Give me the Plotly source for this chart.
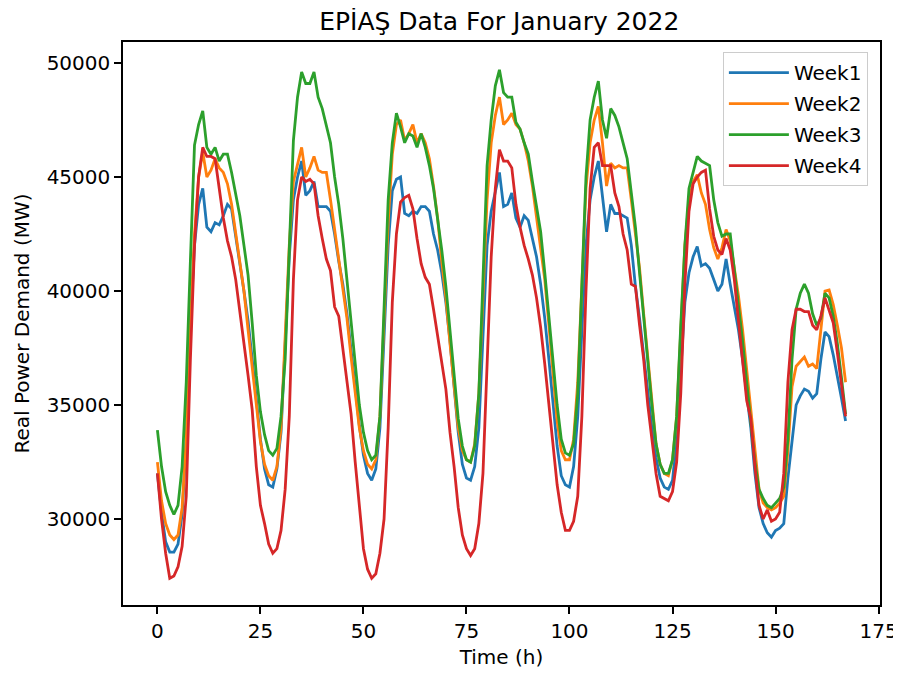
import plotly.graph_objects as go

hours = list(range(168))

week1 = [
    32000, 30300, 29000, 28550, 28550, 28900, 30200, 33500, 38500, 42000, 43800, 44500, 42800, 42600, 43000, 42900, 43300, 43800, 43600, 42300, 41200, 40000, 38700, 37000,
    35200, 33500, 32200, 31500, 31400, 32200, 33800, 37500, 41500, 44000, 45000, 45700, 44200, 44400, 44800, 43700, 43700, 43700, 43500, 42500, 41300, 40300, 39000, 37500,
    35800, 34100, 32800, 32000, 31700, 32200, 34000, 38000, 42000, 44400, 44900, 45000, 43400, 43300, 43500, 43400, 43700, 43700, 43500, 42500, 41800, 40800, 39500, 37800,
    35800, 33800, 32400, 31800, 31700, 32300, 34000, 38000, 42000, 43500, 44300, 45200, 43700, 43800, 44300, 43200, 42800, 43300, 43100, 42300, 41500, 40300, 38800, 37000,
    35000, 33200, 31900, 31500, 31400, 32300, 34500, 38500, 42000, 44000, 45000, 45700, 44000, 42600, 43800, 43400, 43400, 43300, 43200, 42000, 40200, 38800, 37200, 35700,
    34000, 32700, 31800, 31400, 31300, 31700, 33500, 36500, 39500, 40800, 41500, 41950, 41100, 41200, 41000, 40500, 40000, 40300, 41400, 40300, 39300, 38300, 37000, 35500,
    34000, 32000, 30500, 29800, 29400, 29200, 29500, 29600, 29800, 31800, 33500, 35000, 35400, 35700, 35600, 35300, 35500, 37000, 38200, 38000, 37200, 36300, 35300, 34300,
]

week2 = [
    32500, 30800, 29800, 29300, 29100, 29300, 30500, 33500, 38500, 42500, 45000, 46100, 45000, 45300, 45800, 45400, 45200, 44700, 43800, 42600, 41300, 40000, 38300, 36700,
    35000, 33400, 32400, 31900, 31700, 32300, 34000, 38000, 42000, 44800, 45500, 46300, 45000, 45400, 45900, 45300, 45200, 45200, 44000, 42700, 41500, 40200, 38800, 37100,
    35500, 34000, 33000, 32400, 32200, 32600, 34500, 38500, 43000, 46000, 47300, 47500, 46600, 46900, 47300, 46500, 46900, 46500, 45800, 44600, 43200, 41300, 39700, 37700,
    35700, 34000, 33000, 32600, 32500, 33300, 35500, 40000, 44000, 46500, 47700, 48500, 47300, 47500, 47800, 47300, 47100, 46500, 45700, 44600, 43300, 42000, 40500, 38500,
    36300, 34300, 33000, 32600, 32600, 33500, 36000, 40500, 44500, 46500, 47500, 48100, 46500, 44600, 45600, 45400, 45500, 45400, 45400, 44000, 42500, 41000, 39000, 37000,
    35000, 33300, 32400, 32000, 31900, 32600, 34500, 38000, 42000, 44000, 44800, 45100, 44300, 43800, 42700, 41900, 41400, 41900, 42700, 42200, 41000, 39800, 38300, 36500,
    35000, 33000, 31300, 30700, 30500, 30400, 30500, 30700, 31000, 33000, 35800, 36700, 36900, 37100, 36700, 36800, 36600, 38300, 40000, 40050, 39400, 38500, 37500, 36000,
]

week3 = [
    33900, 32300, 31200, 30600, 30200, 30600, 32300, 36000, 41300, 46400, 47300, 47900, 46300, 46000, 46300, 45700, 46000, 46000, 45200, 44300, 43300, 42000, 40700, 38600,
    36300, 34700, 33700, 33000, 32800, 33100, 34500, 37000, 42000, 46600, 48500, 49600, 49100, 49100, 49600, 48500, 48000, 47300, 46500, 45000, 43800, 42300, 40500, 38500,
    36800, 35000, 33800, 33000, 32600, 32800, 34500, 39000, 44000, 46500, 47800, 47200, 46500, 46900, 46800, 46300, 46900, 46300, 45500, 44500, 43200, 41800, 40200, 38300,
    36400, 34400, 33200, 32600, 32500, 33200, 35500, 40500, 45500, 47500, 49000, 49700, 48700, 48500, 48500, 47400, 47100, 46500, 46000, 44800, 43600, 42600, 40800, 38800,
    37000, 35000, 33500, 32900, 32800, 33300, 35500, 40500, 45000, 47500, 48500, 49200, 47500, 46700, 48000, 47700, 47200, 46500, 45800, 44300, 42800, 40800, 38800, 36800,
    35000, 33300, 32400, 32000, 32000, 32600, 34500, 38500, 42000, 44500, 45200, 45900, 45700, 45600, 45500, 44000, 43000, 42400, 42500, 42500, 41000, 39500, 37800, 36000,
    34300, 32500, 31300, 30900, 30600, 30500, 30700, 30900, 31400, 33500, 37000, 39200, 39900, 40300, 39900, 39000, 38500, 38800, 39900, 39700, 38900, 37700, 36200, 34600,
]

week4 = [
    32000, 30000, 28500, 27400, 27500, 27900, 28800, 31000, 37000, 42000, 45000, 46300, 45900, 45900, 45800, 44500, 43200, 42200, 41500, 40500, 39000, 37700, 36300, 34800,
    32300, 30600, 29800, 28900, 28500, 28700, 29500, 31300, 34500, 40500, 44000, 45000, 44800, 44900, 44700, 43300, 42300, 41400, 40900, 39300, 38900, 37500, 36200, 34600,
    32500, 30500, 28700, 27800, 27400, 27600, 28500, 30000, 34000, 39500, 42500, 43900, 44100, 44200, 43600, 42300, 41200, 40600, 40300, 39200, 38000, 36800, 35700, 33800,
    32300, 30500, 29300, 28700, 28400, 28700, 29800, 32000, 37000, 41500, 44500, 46200, 45700, 45700, 45400, 43800, 42800, 42000, 41400, 40700, 39700, 38400, 36800, 35000,
    33200, 31500, 30300, 29500, 29500, 29900, 31000, 34500, 40000, 44500, 46300, 46500, 45500, 45500, 45500, 44300, 43700, 42500, 41800, 40300, 40200, 38500, 37000, 35000,
    33500, 32000, 31000, 30900, 30800, 31200, 32500, 35500, 40300, 43500, 44700, 45000, 45200, 45300, 43600, 42400, 41800, 41600, 42300, 41800, 40500, 38700, 37000, 35200,
    34400, 32300, 30600, 30000, 30400, 29900, 30000, 30300, 32000, 36000, 38300, 39200, 39200, 39100, 39100, 38500, 38300, 38900, 39700, 39100, 38600, 37300, 35800, 34500,
]

series_names = ["Week1", "Week2", "Week3", "Week4"]
series_values = [week1, week2, week3, week4]
colors = ["#1f77b4", "#ff7f0e", "#2ca02c", "#d62728"]

x_ticks = [0, 25, 50, 75, 100, 125, 150, 175]
y_ticks = [30000, 35000, 40000, 45000, 50000]

for s in series_values:
    assert len(s) == len(hours)

FONT = "DejaVu Sans"
FS = 20

fig = go.Figure()
for name, vals, col in zip(series_names, series_values, colors):
    fig.add_trace(go.Scatter(
        x=hours, y=vals, mode="lines", name=name, legendgroup=name,
        line=dict(color=col, width=2.8),
    ))

axis_common = dict(
    showline=True, linecolor="black", linewidth=1.5, mirror=True,
    ticks="outside", ticklen=7, tickwidth=1.5, tickcolor="black",
    showgrid=False, zeroline=False, automargin=False,
    tickfont=dict(family=FONT, size=FS, color="black"),
)

# page body has an 8px default margin, so the figure is 8px smaller on each axis
W, H = 893, 667
fig.update_layout(
    width=W, height=H,
    margin=dict(l=115, r=21, t=34, b=70),
    paper_bgcolor="white", plot_bgcolor="white",
    font=dict(family=FONT, color="black"),
    title=dict(text="EPİAŞ Data For January 2022", xref="paper", x=0.497, xanchor="center",
               y=1 - 13 / H, yanchor="middle",
               font=dict(family=FONT, size=25, color="black")),
    xaxis=dict(range=[-8.35, 175.35], tickvals=x_ticks,
               ticktext=[str(v) for v in x_ticks],
               title=dict(text="Time (h)", font=dict(family=FONT, size=FS), standoff=8),
               **axis_common),
    yaxis=dict(range=[26230, 50920], tickvals=y_ticks,
               ticktext=[str(v) for v in y_ticks],
               title=dict(text="Real Power Demand (MW)", font=dict(family=FONT, size=FS), standoff=12),
               **axis_common),
    legend=dict(x=0.984, y=0.982, xanchor="right", yanchor="top",
                bgcolor="rgba(255,255,255,0.8)", bordercolor="#cccccc", borderwidth=1,
                font=dict(family=FONT, size=FS, color="black"),
                tracegroupgap=2, itemwidth=60),
    showlegend=True,
)

fig.write_html("out.html")
